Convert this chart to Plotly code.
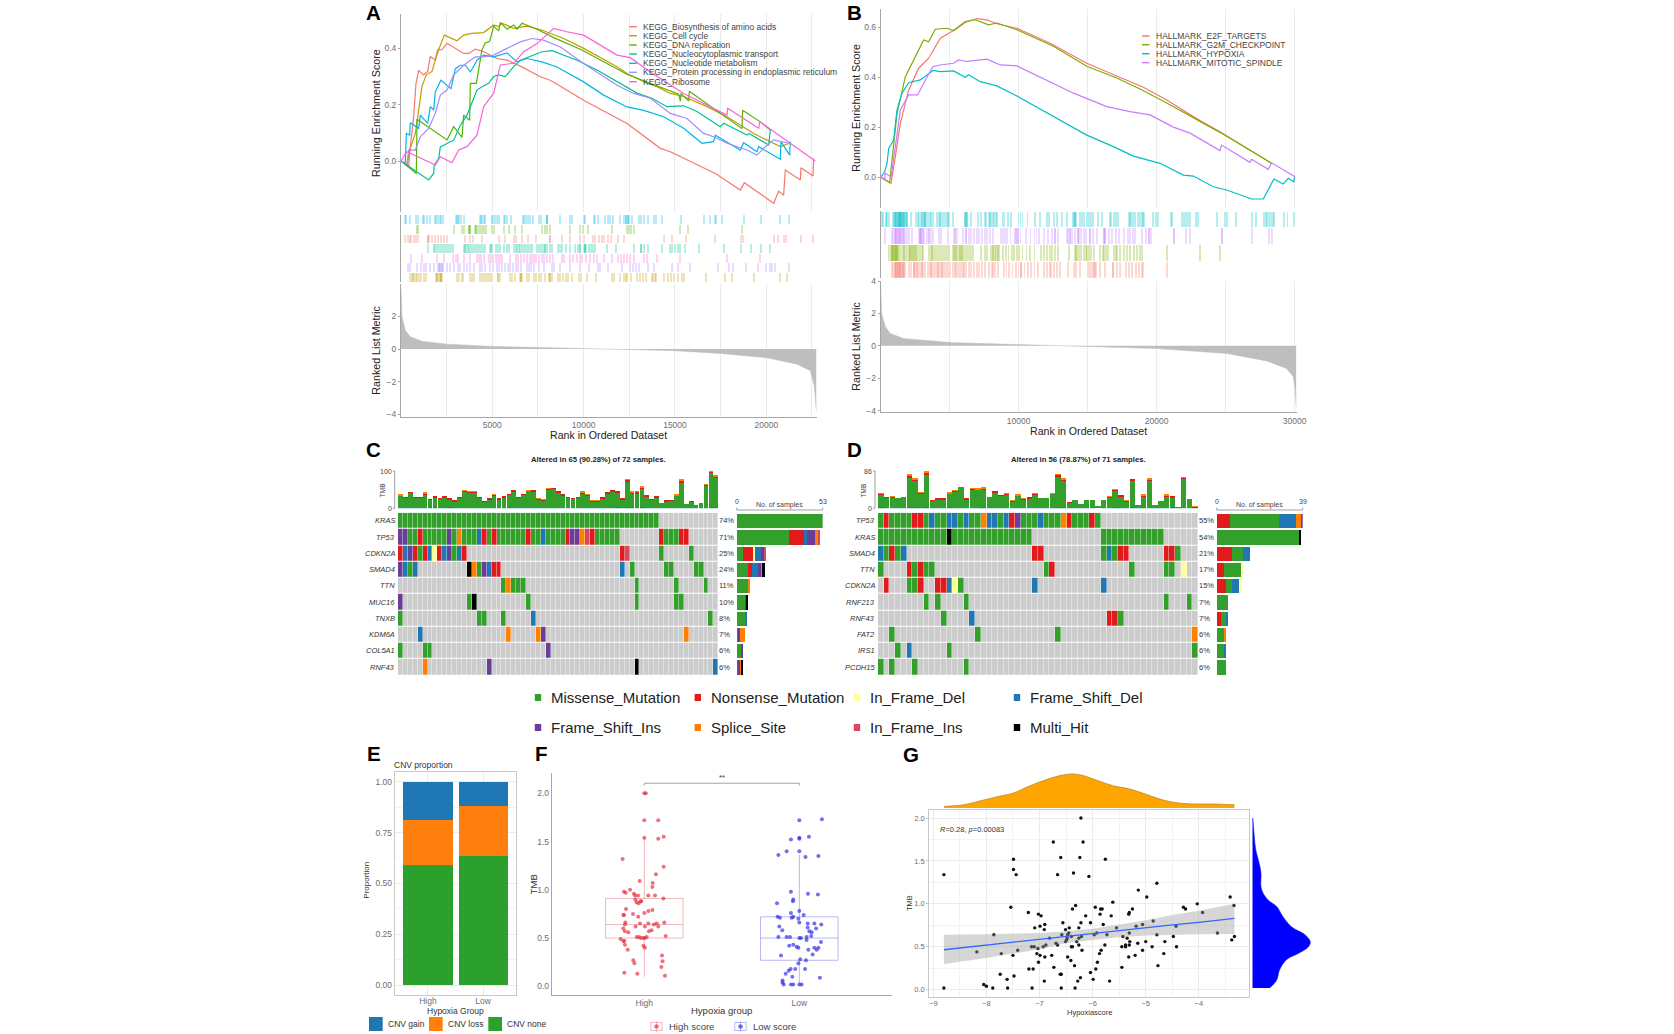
import numpy as np
import plotly.graph_objects as go

W, H = 1674, 1034

# ---------------- GSEA panel A ----------------
kegg_names = ["KEGG_Biosynthesis of amino acids", "KEGG_Cell cycle", "KEGG_DNA replication",
              "KEGG_Nucleocytoplasmic transport", "KEGG_Nucleotide metabolism",
              "KEGG_Protein processing in endoplasmic reticulum", "KEGG_Ribosome"]
kegg_colors = ["#F8766D", "#C49A00", "#53B400", "#00C094", "#00B6EB", "#A58AFF", "#FB61D7"]

biosyn_rank = [1, 420, 511, 694, 821, 967, 1241, 1460, 1606, 1880, 2007, 2245, 2519, 3431, 3705, 4070, 4526, 5256, 5804, 6534, 7629, 8176, 10001, 12374, 14199, 14746, 17210, 18579, 18798, 20404, 20677, 20951, 21042, 21864, 21900, 22557, 22593]
biosyn_es = [0, -.017, .05, .157, .276, .321, .306, .318, .371, .359, .395, .395, .418, .382, .382, .397, .388, .364, .358, .337, .299, .287, .216, .133, .045, .033, -.044, -.103, -.077, -.15, -.107, -.121, -.032, -.067, -.024, -.053, .009]
cycle_rank = [1, 329, 475, 785, 967, 1150, 1387, 1697, 1880, 2062, 2373, 3066, 3431, 3887, 4526, 5074, 5347, 5530, 6169, 6899, 7629, 8176, 8906, 10001, 11826, 12374, 13286, 14016, 14746, 15476, 16754, 17849, 18579, 19309, 20769, 21280]
cycle_es = [0, -.017, .039, .098, .18, .265, .306, .318, .359, .395, .447, .427, .447, .453, .456, .483, .477, .489, .471, .479, .467, .453, .435, .4, .335, .311, .282, .264, .24, .229, .193, .157, .127, .098, .051, .063]
dna_rank = [1, 840, 876, 2519, 2884, 3340, 3431, 3760, 3796, 4125, 4435, 4617, 4855, 5074, 5347, 5439, 5804, 6169, 6351, 6625, 7446, 8359, 9819, 12374, 15202, 15294, 15330, 15750, 15786, 18670, 18706, 19673, 20221]
dna_es = [0, -.044, .148, .075, .122, .084, .163, .145, .276, .276, .395, .419, .425, .479, .462, .492, .468, .483, .468, .489, .468, .438, .397, .308, .237, .213, .24, .213, .248, .115, .18, .139, .11]
transport_rank = [1, 1515, 1789, 1825, 2062, 2154, 2519, 2884, 3248, 3614, 3796, 4161, 4435, 4800, 5074, 5347, 5712, 6169, 6534, 6899, 7264, 7720, 8267, 8906, 9636, 10731, 11826, 12921, 13742, 14564, 15476, 16206, 17484, 17666, 18943, 19053, 20130, 20221]
transport_es = [0, -.067, -.044, -.014, .009, .05, .062, .074, .127, .163, .193, .252, .264, .276, .3, .306, .3, .335, .358, .368, .376, .388, .392, .376, .358, .323, .282, .241, .223, .193, .196, .176, .122, .134, .092, .098, .057, .11]
nucleotide_rank = [1, 237, 292, 475, 511, 967, 1058, 1460, 1606, 1789, 1880, 2190, 2737, 2975, 3248, 3522, 3796, 4161, 4526, 5074, 5804, 6351, 6899, 7720, 8541, 10001, 11096, 12374, 13286, 14381, 15476, 16480, 17119, 17210, 18579, 18761, 19491, 19582, 20769, 20805, 21280, 21316]
nucleotide_es = [0, -.008, .098, .092, .136, .116, .163, .134, .193, .181, .246, .287, .257, .328, .34, .34, .316, .358, .376, .37, .384, .352, .364, .352, .334, .281, .234, .192, .18, .157, .116, .063, .069, .092, .039, .065, .033, .051, .006, .069, .021, .069]
protein_rank = [1, 329, 420, 785, 1058, 1515, 1880, 2154, 2519, 2884, 3431, 4070, 4526, 5074, 5804, 6534, 7172, 7811, 8724, 10001, 11826, 12738, 13651, 14746, 15658, 16571, 17119, 17849, 18943, 19491, 19947, 20404, 21224]
protein_es = [0, -.008, .039, .039, .086, .116, .169, .234, .252, .306, .34, .37, .37, .376, .4, .423, .435, .429, .405, .346, .269, .24, .223, .169, .151, .098, .086, .063, .039, .021, .051, .075, .063]
ribosome_rank = [1, 329, 1880, 2154, 2792, 3157, 3614, 4161, 4526, 5074, 5439, 6169, 6716, 7446, 8359, 9088, 10001, 11826, 12556, 13651, 15476, 17849, 17885, 19582, 19637, 22685]
ribosome_es = [0, .033, -.014, .015, -.006, .039, .051, .092, .193, .241, .341, .347, .388, .417, .471, .459, .447, .376, .367, .316, .24, .163, .187, .116, .14, 0]

nucleotide_hits = [237, 292, 475, 821, 912, 1186, 1278, 1423, 1570, 1843, 1935, 2026, 2117, 2208, 2281, 3011, 3066, 3121, 3176, 3285, 3431, 4307, 4380, 4453, 4526, 4599, 4964, 5037, 5128, 5256, 5347, 5621, 5694, 5804, 6023, 6680, 6753, 6862, 6972, 7081, 7209, 7556, 7647, 7994, 7994, 7994, 8687, 9271, 9344, 10001, 10092, 10549, 10640, 10786, 11187, 11315, 11425, 11607, 12009, 12191, 12337, 12337, 12410, 12410, 12465, 12647, 13012, 13158, 13286, 13505, 13834, 13943, 14308, 15330, 16608, 16900, 17173, 17246, 17575, 18761, 19710, 20769, 21261]
dna_hits = [858, 949, 2884, 3340, 3431, 3723, 3723, 3760, 3760, 4033, 4125, 4125, 4234, 4344, 4453, 4563, 4672, 5001, 5110, 5658, 5913, 6223, 6607, 7738, 7866, 7994, 8140, 9235, 9819, 9946, 10257, 11534, 12374, 12483, 12593, 12738, 15257, 15732, 18688]
biosyn_hits = [201, 365, 475, 566, 694, 803, 931, 1460, 1460, 1533, 1716, 1862, 2008, 2190, 2373, 2519, 3504, 3796, 3942, 4417, 5366, 5694, 6169, 6315, 6643, 6972, 7373, 8140, 8176, 8833, 9271, 9819, 10038, 10512, 10640, 10822, 11023, 11133, 11315, 11498, 11899, 12191, 14381, 14819, 15586, 17192, 18615, 18725, 20440, 20659, 20951, 21060, 21900, 22557]
transport_hits = [1497, 1789, 1862, 1971, 2081, 2190, 2299, 2409, 2519, 2628, 2738, 2847, 3431, 3504, 3577, 3650, 3723, 3833, 3942, 4052, 4161, 4271, 4380, 4490, 4599, 4855, 4928, 5001, 5183, 5293, 5439, 5658, 5804, 5913, 6169, 6278, 6351, 6442, 6534, 6643, 6753, 6862, 6972, 7081, 7191, 7446, 7556, 7665, 7775, 7884, 7884, 7994, 8176, 8286, 8578, 8724, 8833, 9052, 9271, 9527, 9709, 9819, 9819, 10001, 10074, 10074, 10147, 10293, 10403, 10512, 10622, 11279, 11790, 12775, 13140, 13140, 13323, 13542, 14308, 14710, 14856, 15002, 15148, 15294, 15549, 16316, 17666, 18615, 19163, 19710, 20221]
ribosome_hits = [566, 1132, 1971, 2336, 2847, 2993, 3139, 3431, 3796, 4161, 4271, 4380, 4526, 4818, 4928, 5037, 5183, 5329, 5439, 5548, 5986, 6278, 6424, 6570, 6753, 6899, 7045, 7191, 7300, 7410, 7556, 7702, 7811, 7994, 8176, 8322, 8797, 8943, 9271, 9417, 9636, 9819, 9928, 10111, 10366, 10549, 10731, 11096, 11571, 11899, 12045, 12191, 12374, 12520, 12738, 13323, 13469, 14016, 15294, 17849, 19637]
protein_hits = [365, 475, 876, 1095, 1241, 1351, 1606, 1825, 2008, 2081, 2154, 2154, 2227, 2227, 2299, 2519, 2701, 2884, 3103, 3249, 3431, 3614, 3796, 3979, 4307, 4453, 4599, 4891, 5037, 5256, 5366, 5548, 5694, 5840, 5986, 6132, 6278, 6388, 6570, 6899, 7008, 7118, 7264, 7556, 7811, 8249, 8395, 8724, 9271, 9819, 10293, 10768, 10877, 11315, 12118, 12520, 12702, 12848, 13031, 13542, 13870, 14856, 15148, 15841, 17338, 17958, 18177, 18871, 19564, 19966, 20185, 20331, 20477, 21225]
cycle_hits = [475, 584, 657, 730, 803, 876, 986, 1095, 1278, 1351, 1898, 1971, 1971, 2044, 2117, 2117, 2190, 2190, 2263, 3066, 3176, 3322, 3395, 3760, 3869, 3979, 4307, 4417, 4526, 4636, 4745, 4855, 4964, 5329, 5329, 5402, 5986, 6096, 6242, 6497, 6570, 6570, 6643, 6899, 7008, 7300, 7410, 7556, 7665, 7884, 8103, 8176, 8176, 8249, 8578, 8724, 8870, 9016, 9162, 9381, 9746, 9855, 10184, 10658, 11534, 11644, 12009, 12228, 12301, 12374, 12593, 12921, 13067, 13250, 13396, 13724, 13797, 13907, 13980, 14418, 14600, 14783, 14965, 15184, 15367, 15513, 16717, 17739, 18141, 19309, 20732, 21134]

metric_a_rank = [1, 55, 237, 511, 1150, 2519, 5074, 7446, 10001, 11100, 12556, 15019, 17484, 20039, 21681, 22411, 22630, 22740]
metric_a = [3.65, 2.0, 1.16, .75, .47, .3, .16, .08, .02, 0, -.03, -.11, -.27, -.54, -.93, -1.33, -2.3, -3.8]

# ---------------- GSEA panel B ----------------
hallmark_names = ["HALLMARK_E2F_TARGETS", "HALLMARK_G2M_CHECKPOINT", "HALLMARK_HYPOXIA", "HALLMARK_MITOTIC_SPINDLE"]
hallmark_colors = ["#F8766D", "#7CAE00", "#00BFC4", "#C77CFF"]

e2f_rank = [1, 748, 1062, 1424, 2027, 2751, 3475, 4319, 5285, 6129, 6974, 7698, 8421, 9869, 12282, 14936, 17108, 19039, 20728, 23141, 24589, 28329]
e2f_es = [0, -.025, .082, .215, .349, .436, .476, .556, .587, .619, .635, .63, .614, .596, .536, .456, .405, .36, .309, .226, .181, .055]
g2m_rank = [1, 651, 820, 1182, 1786, 2510, 3113, 3475, 3957, 4802, 5285, 6129, 6853, 7818, 8421, 9869, 12523, 14936, 17108, 18797, 20728, 23141, 24589, 28329]
g2m_es = [0, -.023, .068, .255, .402, .483, .549, .542, .592, .596, .587, .623, .63, .61, .617, .59, .524, .444, .397, .353, .297, .223, .179, .055]
hypoxia_rank = [1, 290, 458, 579, 941, 1182, 1544, 2027, 2871, 3788, 4319, 5285, 6129, 6370, 7215, 8421, 9869, 12523, 14936, 16867, 18315, 20245, 21934, 22658, 24106, 25071, 26881, 27725, 28498, 29174, 29536, 29946, 29994]
hypoxia_es = [0, .021, .055, .115, .148, .269, .336, .378, .389, .427, .422, .425, .4, .41, .382, .365, .325, .242, .168, .122, .084, .055, .008, .004, -.039, -.052, -.088, -.088, -.008, -.028, -.005, -.019, .001]
mitotic_rank = [1, 290, 314, 748, 1062, 1424, 2027, 2678, 3113, 3788, 4319, 5285, 5646, 6250, 7698, 8663, 9869, 12282, 13971, 16385, 18074, 19522, 21210, 22417, 24589, 24710, 26761, 26881, 28088, 28329, 30019]
mitotic_es = [0, -.012, .015, .001, .122, .269, .329, .329, .376, .443, .449, .456, .469, .463, .472, .449, .445, .382, .336, .282, .262, .249, .2, .176, .106, .128, .059, .071, .031, .057, .001]

hypoxia_hits = [72, 169, 386, 458, 555, 845, 941, 1038, 1110, 1182, 1279, 1375, 1472, 1568, 1665, 1761, 1858, 1906, 2196, 2534, 2678, 2775, 2871, 2968, 3065, 3161, 3258, 3402, 3547, 3644, 3740, 4078, 4175, 4271, 4368, 4464, 4609, 4754, 4850, 4947, 5188, 6057, 6153, 6250, 6539, 7022, 7215, 7504, 7601, 7842, 7939, 8084, 8180, 8325, 8421, 8856, 8952, 9194, 9435, 9966, 10110, 10255, 10617, 11172, 11558, 12041, 12186, 12523, 12764, 13103, 13489, 13971, 14068, 14164, 14453, 14598, 14743, 14936, 15081, 15226, 15371, 15757, 15998, 16577, 16674, 16867, 17011, 17205, 18025, 18122, 18267, 18411, 18604, 18797, 18942, 19039, 19714, 19907, 20100, 21017, 21114, 21838, 21934, 22079, 22224, 22369, 22803, 22948, 24347, 24926, 25071, 25747, 26905, 27146, 27773, 27870, 27966, 28111, 28256, 28401, 28498, 29222, 29463, 29946]
hypoxia_core_hits = [400, 1000, 1050, 1150, 1200, 1300, 1330, 1350, 1420, 1450, 1500, 1600, 1700, 1800, 3100, 3200, 6100, 6200, 7900, 13950, 14050, 18000, 19000]
mitotic_hits = [290, 796, 893, 989, 1086, 1182, 1279, 1375, 1472, 1568, 1665, 1761, 1858, 2051, 2244, 2727, 2823, 2920, 3016, 3113, 3354, 3499, 3644, 3788, 4223, 4368, 4850, 5285, 5381, 5478, 5960, 6153, 6346, 6539, 6732, 6925, 7118, 7311, 7504, 7698, 7891, 8084, 8711, 8856, 9001, 9145, 9387, 9725, 9821, 9918, 10110, 10497, 10834, 11124, 11269, 11462, 11848, 12138, 12427, 12620, 12813, 13489, 13585, 13730, 13875, 14068, 14261, 14357, 14502, 14743, 14888, 15178, 15371, 15661, 16143, 16240, 16529, 16770, 17060, 17253, 17639, 17880, 18074, 18267, 18411, 18894, 19184, 19425, 19570, 21234, 22079, 22369, 24710, 26857, 28111, 28304]
mitotic_core_hits = [1000, 1100, 1250, 1300, 1450, 1600, 2800, 2900, 3000, 3500, 5400, 6150, 9800, 9950, 12600, 13700, 14300, 15170, 16150, 16200, 19400, 21234, 24710]
g2m_hits = [579, 700, 796, 893, 989, 1086, 1182, 1327, 1472, 1617, 1713, 1906, 2099, 2244, 2389, 2534, 2678, 2823, 2968, 3065, 3499, 3644, 3788, 3933, 4078, 4223, 4368, 4512, 4657, 4802, 4947, 5236, 5381, 5526, 5671, 5815, 5960, 6105, 6250, 6394, 6539, 6684, 7215, 7504, 7698, 7939, 8084, 8228, 8373, 8518, 8856, 9049, 9242, 9483, 9628, 9869, 10014, 10255, 10545, 10786, 11124, 11606, 11800, 12041, 12234, 12427, 12620, 12861, 13634, 14068, 14213, 14357, 14502, 14695, 14888, 15081, 15226, 15419, 15902, 16143, 16336, 16481, 16867, 17108, 17350, 17591, 17832, 18074, 18315, 18556, 18749, 18942, 20752, 23093, 24589]
g2m_core_hits = [800, 900, 950, 1000, 1100, 1190, 1250, 1700, 2000, 2100, 2250, 2400, 2550, 3700, 5300, 5450, 5700, 5850, 8150, 8300, 8500, 14150, 14900, 16100, 17000]
e2f_hits = [796, 893, 989, 1086, 1182, 1279, 1375, 1472, 1568, 1665, 1761, 2051, 2196, 2389, 2485, 2582, 2727, 2871, 3016, 3209, 3402, 3547, 3692, 3837, 3981, 4126, 4271, 4416, 4561, 4705, 4850, 4995, 5188, 5381, 5526, 5671, 5815, 5960, 6153, 6346, 6539, 6732, 6925, 7118, 7311, 7504, 7794, 8035, 8228, 8470, 8904, 9097, 9290, 9531, 9773, 9966, 10159, 10400, 10641, 10883, 11124, 11365, 11848, 12041, 12282, 12523, 12764, 12958, 13585, 14020, 14164, 14453, 15033, 15178, 15323, 15467, 15612, 15902, 16240, 16819, 17108, 17301, 17735, 18218, 18508, 18701, 18894, 18990, 20728]
e2f_core_hits = [1000, 1050, 1150, 1200, 1280, 1350, 1500, 1600, 2400, 2600, 3000, 3600, 4100, 4400, 5400, 6000, 8100, 10150, 12300, 15400, 15500, 16800, 18000]

metric_b_rank = [1, 72, 340, 700, 1665, 5043, 9990, 13006, 20004, 25071, 27966, 29415, 29898, 30043, 30115]
metric_b = [3.7, 2.0, 1.17, .76, .45, .2, .08, 0, -.17, -.47, -.93, -1.4, -1.9, -2.75, -3.77]

# ---------------- oncoplots C and D (run-length coded per gene) ----------------
mutation_names = ["Missense_Mutation", "Nonsense_Mutation", "In_Frame_Del", "Frame_Shift_Del",
                  "Frame_Shift_Ins", "Splice_Site", "In_Frame_Ins", "Multi_Hit"]
mutation_codes = ["M", "N", "D", "F", "P", "S", "I", "H"]
mutation_colors = ["#33A02C", "#E31A1C", "#FFFF99", "#1F78B4", "#6A3D9A", "#FF7F00", "#D8485F", "#000000"]

genes_c = ["KRAS", "TP53", "CDKN2A", "SMAD4", "TTN", "MUC16", "TNXB", "KDM6A", "COL5A1", "RNF43"]
percent_c = ["74%", "71%", "25%", "24%", "11%", "10%", "8%", "7%", "6%", "6%"]
cells_c = [
    "M53 .12",
    "P2 M2 N1 M5 P1 M1 S1 M3 F1 N1 M1 N1 M6 N1 M2 F1 M4 N1 P2 S1 I1 N1 M5 .8 N1 M3 N2 .6",
    "N1 F1 P1 N1 M1 N1 F1 D1 N1 F1 P1 M1 F1 N1 .31 N1 I1 .6 M1 .5 M1 .5",
    "P1 F1 M1 F1 .10 H1 S1 M1 P1 F1 N2 .24 F1 .1 M1 .6 M2 .4 M2 .3",
    ".21 M1 S1 M3 .22 M1 .7 M1 .5 M1 .2",
    "P1 .13 M1 H1 .10 M1 .21 M1 .7 M2 .7",
    "M1 .15 M2 .3 M1 .5 F1 .35 M1 .1",
    ".4 F1 .17 S1 .5 S1 P1 .28 S1 .6",
    "M1 .4 M2 .23 P1 .34",
    ".5 S1 .12 P1 .29 H1 .15 F1",
]
stack_order_c = ["M", "N", "D", "F", "P", "S", "I", "H"]
tmb_total_c = [36, 30, 43, 30, 29, 42, 24, 31, 26, 32,
               27, 20, 30, 49, 46, 46, 30, 18, 25, 37,
               25, 31, 38, 47, 30, 37, 49, 47, 27, 24,
               53, 54, 46, 36, 30, 27, 30, 44, 37, 21,
               21, 28, 42, 47, 45, 25, 78, 44, 45, 58,
               34, 24, 31, 15, 20, 21, 36, 76, 12, 19,
               8, 13, 65, 100, 87]
tmb_red_c = [1, 1, 1, 1, 1, 3, 1, 2, 1, 2,
             3, 1, 1, 3, 3, 3, 1, 1, 2, 3,
             1, 1, 2, 3, 1, 1, 1, 2, 3, 3,
             1, 1, 3, 1, 1, 2, 1, 2, 1, 2,
             3, 1, 1, 2, 2, 1, 4, 4, 4, 3,
             3, 1, 2, 0, 1, 1, 2, 5, 0, 1,
             0, 0, 2, 3, 3]
tmb_orange_c = [1, 0, 0, 0, 0, 1, 0, 0, 0, 0,
                0, 0, 0, 1, 1, 1, 0, 0, 0, 1,
                0, 0, 0, 0, 0, 0, 1, 0, 1, 1,
                1, 0, 0, 0, 0, 0, 0, 2, 1, 1,
                1, 0, 0, 0, 0, 0, 1, 1, 1, 1,
                0, 0, 0, 0, 0, 0, 1, 1, 0, 0,
                0, 0, 1, 1, 1]
tmb_blue_c = [1, 1, 1, 1, 1, 1, 3, 3, 2, 1,
              3, 1, 1, 2, 2, 1, 1, 1, 1, 1,
              1, 1, 3, 1, 1, 2, 1, 1, 1, 2,
              2, 1, 2, 1, 1, 1, 1, 1, 2, 1,
              2, 1, 1, 1, 3, 1, 3, 3, 1, 4,
              1, 1, 1, 2, 1, 1, 1, 1, 1, 1,
              1, 1, 1, 4, 2]

genes_d = ["TP53", "KRAS", "SMAD4", "TTN", "CDKN2A", "RNF213", "RNF43", "FAT2", "IRS1", "PCDH15"]
percent_d = ["55%", "54%", "21%", "17%", "15%", "7%", "7%", "6%", "6%", "6%"]
cells_d = [
    "M1 N1 M4 N2 M1 F1 M2 F2 M1 F1 M2 S1 F2 M1 F1 N1 P1 M3 F1 M3 S1 N1 M3 N1 M1 .17",
    "M12 H1 M14 .12 M11 .6",
    "F1 M1 N1 M1 F1 .22 N2 .10 M1 F1 M1 N2 .6 N2 M1 .3",
    "M1 .4 N1 M1 N1 M2 .19 M1 N1 .13 M1 .5 M2 .1 D1 .2",
    ".1 N1 .3 M2 N1 .2 N2 F1 D1 M1 .12 F1 .11 F1 .16",
    ".8 M1 .1 M1 .4 M1 .34 M1 .3 M1 .1",
    ".11 M1 .4 F1 .23 N2 M1 .13",
    ".2 M1 .14 M1 .13 M1 .23 S1",
    ".3 M1 .1 F1 .6 M1 .42 M1",
    "M1 .1 M1 .3 M1 .8 M1 .40",
]
stack_order_d = ["N", "M", "F", "D", "S", "P", "I", "H"]
tmb_total_d = [35, 26, 28, 24, 25, 77, 68, 37, 86, 18,
               23, 23, 36, 42, 49, 22, 46, 45, 47, 26,
               38, 30, 35, 18, 31, 23, 25, 35, 24, 23,
               35, 78, 68, 14, 18, 11, 20, 18, 5, 18,
               28, 44, 29, 19, 67, 8, 31, 68, 8, 16,
               31, 27, 1, 71, 21, 4]
tmb_red_d = [2, 1, 1, 0, 0, 4, 4, 2, 5, 1,
             2, 2, 1, 2, 0, 1, 2, 1, 2, 0,
             1, 1, 2, 1, 1, 2, 2, 2, 0, 0,
             1, 4, 4, 1, 0, 0, 0, 0, 0, 0,
             1, 3, 1, 2, 2, 0, 2, 2, 0, 0,
             2, 2, 0, 2, 0, 1]
tmb_orange_d = [1, 0, 1, 0, 0, 1, 1, 1, 5, 0,
                0, 0, 1, 1, 0, 0, 1, 1, 1, 0,
                0, 0, 1, 1, 1, 1, 0, 1, 0, 0,
                1, 1, 1, 0, 0, 0, 0, 0, 0, 0,
                1, 1, 0, 1, 0, 0, 1, 1, 0, 0,
                1, 0, 0, 1, 0, 1]
tmb_blue_d = [3, 1, 1, 1, 1, 3, 3, 1, 2, 1,
              1, 1, 2, 1, 1, 1, 1, 1, 2, 1,
              1, 1, 1, 1, 1, 1, 1, 1, 1, 1,
              1, 3, 2, 1, 1, 1, 1, 1, 0, 1,
              1, 2, 1, 1, 2, 1, 2, 1, 1, 1,
              1, 2, 0, 1, 1, 0]

# ---------------- panel E ----------------
cnv_groups = ["High", "Low"]
cnv_none = [.59, .633]
cnv_loss = [.221, .246]
cnv_gain = [.189, .121]

# ---------------- panel F ----------------
high_tmb = [2.0, 2.0, 1.72, 1.72, 1.54, 1.55, 1.53, 1.32, 1.24, 1.16, 1.09, 1.07, 1.03, 1.0, .98, .97, .96, .94, .94, .94, .94, .91, .9, .88, .86, .88, .87, .8, .79, .78, .76, .75, .74, .74, .72, .66, .64, .66, .65, .65, .65, .64, .62, .62, .62, .58, .57, .6, .57, .56, .51, .51, .51, .5, .5, .5, .52, .49, .47, .47, .43, .38, .42, .4, .32, .26, .27, .24, .2, .14, .13, .11]
high_jitter = [0, .01, .09, 0, 0, .125, .09, -.14, .125, .075, -.03, .054, .052, -.092, -.131, -.12, -.067, -.06, -.04, .026, .069, .123, -.058, -.024, -.037, -.02, -.05, -.118, .052, .026, 0, -.073, -.135, -.131, -.039, -.122, -.125, .129, -.028, .026, .08, .062, .09, -.056, .004, .047, .03, -.136, -.125, -.103, .015, -.034, -.049, -.022, -.006, .004, .138, -.153, -.135, -.129, -.125, -.107, -.006, .004, .114, .118, -.071, -.064, .11, -.129, -.045, .133]
low_tmb = [1.73, 1.72, 1.54, 1.53, 1.55, 1.52, 1.4, 1.4, 1.36, 1.34, 1.35, .98, .96, .95, .9, .88, .86, .78, .76, .74, .72, .71, .72, .71, .7, .66, .65, .65, .64, .62, .61, .6, .58, .57, .56, .52, .51, .51, .51, .5, .5, .51, .48, .46, .43, .42, .41, .4, .38, .4, .38, .4, .33, .32, .28, .27, .24, .18, .18, .18, .16, .13, .1, .09, .06, .04, .02, .02, .02, .02, .02]
low_jitter = [.146, 0, 0, 0, .062, -.054, 0, -.082, -.135, .04, .123, -.054, .056, .12, -.039, -.041, -.144, 0, -.054, .028, -.039, -.049, -.14, -.125, -.006, 0, .054, .097, .142, -.129, .054, .108, -.11, .065, .08, .077, -.135, -.082, -.06, 0, .011, .047, .047, .14, -.039, -.065, -.017, -.006, .058, .097, .112, .123, .086, -.118, .006, .043, -.006, .037, -.026, -.056, -.069, -.088, -.045, .133, -.108, -.108, -.101, -.054, -.039, 0, .015]
high_box = dict(q1=.5, median=.64, q3=.91, lowerfence=.1, upperfence=1.54)
low_box = dict(q1=.27, median=.5, q3=.72, lowerfence=.02, upperfence=1.36)

# ---------------- panel G ----------------
hypoxia_score = [-8.8, -8.8, -8.18, -7.86, -8.05, -8.0, -7.88, -7.72, -7.74, -7.61, -7.6, -7.54, -7.49, -7.49, -7.44, -7.5, -7.48, -7.41, -7.21, -7.2, -7.12, -7.14, -7.15, -7.1, -7.09, -7.02, -6.97, -6.99, -6.9, -6.91, -7.03, -7.05, -6.99, -7.02, -6.93, -6.88, -6.9, -6.91, -6.81, -6.77, -6.73, -6.74, -6.6, -6.66, -6.69, -6.66, -6.61, -6.59, -6.59, -6.56, -6.51, -6.51, -6.49, -6.58, -6.44, -6.45, -6.47, -6.48, -6.4, -6.47, -6.41, -6.4, -6.38, -6.34, -6.33, -6.28, -6.23, -6.36, -6.32, -6.38, -6.3, -6.26, -6.26, -6.26, -6.21, -6.22, -6.24, -6.22, -6.18, -6.2, -6.13, -6.07, -6.04, -6.04, -5.99, -5.97, -5.94, -5.91, -5.92, -5.95, -5.87, -5.84, -5.86, -5.85, -5.82, -5.8, -5.77, -5.76, -5.73, -5.68, -5.65, -5.62, -5.55, -5.45, -5.45, -5.43, -5.38, -5.38, -5.35, -5.32, -5.31, -5.31, -5.3, -5.31, -5.32, -5.25, -5.2, -5.18, -5.14, -5.15, -5.06, -5.06, -5.0, -4.98, -4.88, -4.86, -4.79, -4.79, -4.77, -4.66, -4.64, -4.48, -4.43, -4.42, -4.29, -4.25, -4.03, -3.93, -3.65, -3.41, -3.38, -3.34, -3.33]
score_tmb = [1.34, .02, .44, .64, .06, .04, .02, .42, .18, .12, .02, .96, 1.52, 1.4, 1.34, .4, .16, .46, .9, .24, .24, .02, .5, .5, .72, .88, .86, .74, .76, .7, .48, .42, .4, .32, .5, .52, .38, .1, .6, .4, .26, 1.72, 1.54, 1.34, .54, .52, .18, .18, .02, .78, .7, .56, .58, .64, .72, .66, .64, .6, .62, .38, .34, .5, .5, .28, .02, .1, .14, 1.36, .98, .94, .56, .72, .52, .6, .62, .78, 1.54, 2.0, 1.72, .46, .86, 1.32, .78, .2, .12, .64, .24, .32, .66, .96, .42, .46, .88, .94, .94, .76, .52, 1.52, .64, .1, .86, 1.02, .72, .5, .26, .62, .5, .52, .6, .88, .9, .66, .56, .52, .38, .94, .4, .74, 1.16, .54, .76, .46, .56, 1.08, .5, .8, .64, 1.24, .28, .42, .56, .62, .74, .5, .96, .94, 1.0, .9, .66, 1.08, .58, .98, .62]
fit_x = [-8.8, -8, -7, -6.5, -6, -5.5, -5, -4.5, -4, -3.33]
fit_y = [.465, .52, .585, .62, .65, .685, .72, .755, .785, .83]
fit_upper = [.64, .645, .66, .68, .71, .76, .81, .87, .92, 1.0]
fit_lower = [.30, .37, .47, .54, .58, .61, .63, .635, .645, .65]
density_x = [-8.8, -8.435, -8.12, -7.81, -7.49, -7.18, -6.87, -6.61, -6.39, -6.18, -5.92, -5.61, -5.3, -4.98, -4.67, -4.35, -4.04, -3.73, -3.33]
density_of_x = [.02, .04, .09, .14, .19, .28, .36, .41, .43, .41, .35, .28, .24, .17, .10, .06, .05, .05, .04]
density_y = [.02, .11, .23, .35, .42, .5, .56, .64, .73, .85, .97, 1.04, 1.12, 1.2, 1.36, 1.47, 1.63, 1.82, 2.0]
density_of_y = [.30, .42, .47, .59, .79, .97, 1.0, .91, .68, .53, .42, .28, .19, .15, .15, .12, .06, .03, .01]

# ---------------- figure assembly ----------------
AXIS_GRAY = "#A6A6A6"
TICK_GRAY = "#6E6E6E"
GRID = "#EBEBEB"
fig = go.Figure()
layout_axes = {}
notes = []
shapes = []
axis_count = 0


def fx(px):
    return px / W


def fy(py):
    return 1 - py / H


def panel(left, right, top, bottom, xrange, yrange, xopts=None, yopts=None):
    """Register a pair of axes placed by pixel box; returns their trace references."""
    global axis_count
    axis_count += 1
    n = axis_count
    xa = dict(domain=[fx(left), fx(right)], range=xrange, anchor=f"y{n}", showgrid=False, automargin=False,
              zeroline=False, showticklabels=False, ticks="", showline=False)
    ya = dict(domain=[fy(bottom), fy(top)], range=yrange, anchor=f"x{n}", showgrid=False, automargin=False,
              zeroline=False, showticklabels=False, ticks="", showline=False)
    xa.update(xopts or {})
    ya.update(yopts or {})
    layout_axes[f"xaxis{n}"] = xa
    layout_axes[f"yaxis{n}"] = ya
    return f"x{n}", f"y{n}"


def text(px, py, s, size=8.0, color="#333333", anchor="center", angle=0):
    notes.append(dict(x=fx(px), y=fy(py), xref="paper", yref="paper", text=s, showarrow=False,
                      xanchor=anchor, yanchor="middle", textangle=angle, borderpad=0, borderwidth=0,
                      font=dict(size=size, color=color)))


def rect(x0, y0, x1, y1, fill, line="rgba(0,0,0,0)", lw=0):
    shapes.append(dict(type="rect", xref="paper", yref="paper", x0=fx(x0), x1=fx(x1), y0=fy(y0), y1=fy(y1),
                       fillcolor=fill, line=dict(color=line, width=lw)))


def seg(x0, y0, x1, y1, color, lw=1.0):
    shapes.append(dict(type="line", xref="paper", yref="paper", x0=fx(x0), x1=fx(x1), y0=fy(y0), y1=fy(y1),
                       line=dict(color=color, width=lw)))


def gsea(curves, rows, metric_rank, metric, xmax, grid_step, label_step, es_box, es_range, es_ticks,
         rug_box, rug_width, metric_box, metric_range, metric_ticks, legend_names, legend_colors,
         legend_x, legend_ys, legend_size):
    left, right = es_box[:2]
    all_ticks = list(range(grid_step, int(xmax), grid_step))
    grid_opts = dict(tickvals=all_ticks, showgrid=True, gridcolor=GRID, gridwidth=1)
    yline = dict(showline=True, linecolor=AXIS_GRAY, linewidth=1)
    # running enrichment curves
    xr, yr = panel(left, right, es_box[2], es_box[3], [0, xmax], es_range, grid_opts,
                   dict(yline, tickvals=es_ticks, showticklabels=True, tickformat=".1f", ticks="outside",
                        ticklen=2, tickcolor=AXIS_GRAY, tickfont=dict(size=8.5, color=TICK_GRAY)))
    for (rk, es), c in zip(curves, legend_colors):
        fig.add_trace(go.Scatter(x=rk, y=es, mode="lines", line=dict(color=c, width=1.2),
                                 xaxis=xr, yaxis=yr, showlegend=False))
    # hit ticks, one band per gene set
    xr, yr = panel(left, right, rug_box[0], rug_box[1], [0, xmax], [0, len(rows)], None, dict(yline))
    for i, (hits, c) in enumerate(rows):
        fig.add_trace(go.Bar(x=hits, y=[.93] * len(hits), base=len(rows) - 1 - i + .03, width=rug_width,
                             marker=dict(color=c, opacity=.28, line=dict(width=0)),
                             xaxis=xr, yaxis=yr, showlegend=False))
    # ranked list metric
    labels = [f"{v}" if v % label_step == 0 else "" for v in all_ticks]
    xr, yr = panel(left, right, metric_box[0], metric_box[1], [0, xmax], metric_range,
                   dict(grid_opts, ticktext=labels, showticklabels=True, showline=True, linecolor=AXIS_GRAY,
                        tickfont=dict(size=8.5, color=TICK_GRAY)),
                   dict(yline, tickvals=metric_ticks, showticklabels=True, ticks="outside", ticklen=2,
                        tickcolor=AXIS_GRAY, tickfont=dict(size=8.5, color=TICK_GRAY)))
    fig.add_trace(go.Scatter(x=metric_rank, y=metric, mode="lines", fill="tozeroy", fillcolor="#BEBEBE",
                             line=dict(color="#BEBEBE", width=.5), xaxis=xr, yaxis=yr, showlegend=False))
    for name, c, y in zip(legend_names, legend_colors, legend_ys):
        seg(legend_x, y, legend_x + 7.5, y, c, 1.4)
        text(legend_x + 14, y, name, legend_size, "#444444", "left")


gsea(list(zip([biosyn_rank, cycle_rank, dna_rank, transport_rank, nucleotide_rank, protein_rank, ribosome_rank],
              [biosyn_es, cycle_es, dna_es, transport_es, nucleotide_es, protein_es, ribosome_es])),
     [(nucleotide_hits, "#00B6EB"), (dna_hits, "#53B400"), (biosyn_hits, "#F8766D"), (transport_hits, "#00C094"),
      (ribosome_hits, "#FB61D7"), (protein_hits, "#A58AFF"), (cycle_hits, "#C49A00")],
     metric_a_rank, metric_a, 22760, 2500, 5000,
     (401, 816.7, 14, 212), [-.181, .522], [0, .2, .4],
     (215, 282), 50, (284, 416.7), [-4.16, 3.995], [-4, -2, 0, 2],
     kegg_names, kegg_colors, 629.3, [26.7, 35.7, 45, 54, 63.3, 72.3, 81.7], 8.45)

gsea(list(zip([e2f_rank, g2m_rank, hypoxia_rank, mitotic_rank], [e2f_es, g2m_es, hypoxia_es, mitotic_es])),
     [(hypoxia_hits + hypoxia_core_hits, "#00BFC4"), (mitotic_hits + mitotic_core_hits, "#C77CFF"),
      (g2m_hits + g2m_core_hits, "#7CAE00"), (e2f_hits + e2f_core_hits, "#F8766D")],
     metric_b_rank, metric_b, 30150, 5000, 10000,
     (880.7, 1296.7, 9.3, 208), [-.124, .672], [0, .2, .4, .6],
     (210.7, 277.7), 70, (281, 412.3), [-4.1, 4], [-4, -2, 0, 2, 4],
     hallmark_names, hallmark_colors, 1142, [36, 44.7, 53.7, 62.7], 8.5)

text(376, 113, "Running Enrichment Score", 10.7, "#222222", angle=-90)
text(375.7, 350, "Ranked List Metric", 10.7, "#222222", angle=-90)
text(608, 435, "Rank in Ordered Dataset", 10.6, "#222222")
text(855.7, 108, "Running Enrichment Score", 10.7, "#222222", angle=-90)
text(855.7, 346, "Ranked List Metric", 10.7, "#222222", angle=-90)
text(1088, 431, "Rank in Ordered Dataset", 10.6, "#222222")


def decode(runs):
    out = []
    for token in runs.split():
        out += [token[0]] * int(token[1:])
    return out


def oncoplot(genes, percents, cells, order, tmb_total, tmb_red, tmb_orange, tmb_blue, title, title_x,
             left, right, bars_left, bars_right, tmb_max, bar_max, axis_x):
    rows = [decode(r) for r in cells]
    nsamp = len(rows[0])
    top, bottom = 512.7, 675.3
    index = {c: i + 1 for i, c in enumerate(mutation_codes)}
    z = [[index.get(c, 0) for c in row] for row in rows]
    steps = ["#CCCCCC"] + mutation_colors
    scale = []
    for i, c in enumerate(steps):
        scale += [[i / 9, c], [(i + 1) / 9, c]]
    xr, yr = panel(left, right, top, bottom, [-.5, nsamp - .5], [9.5, -.5])
    fig.add_trace(go.Heatmap(z=z, x=list(range(nsamp)), y=list(range(10)), zmin=-.5, zmax=8.5, colorscale=scale,
                             showscale=False, xgap=.4, ygap=1, xaxis=xr, yaxis=yr, hoverinfo="skip"))
    # tumour mutation burden stacked above the matrix
    total = np.array(tmb_total, float)
    red, orange, blue = np.array(tmb_red, float), np.array(tmb_orange, float), np.array(tmb_blue, float)
    green = np.maximum(total - red - orange - blue, 0)
    xr, yr = panel(left, right, 471, 508.3, [-.5, nsamp - .5], [0, tmb_max])
    base = np.zeros(nsamp)
    for part, c in [(blue, "#1F78B4"), (green, "#33A02C"), (red, "#E31A1C"), (orange, "#FF7F00")]:
        fig.add_trace(go.Bar(x=list(range(nsamp)), y=part, base=base.copy(), width=.96,
                             marker=dict(color=c, line=dict(width=0)), xaxis=xr, yaxis=yr, showlegend=False))
        base += part
    seg(axis_x, 471, axis_x, 508.3, "#888888", .8)
    seg(axis_x - 2, 471, axis_x, 471, "#888888", .8)
    seg(axis_x - 2, 508.3, axis_x, 508.3, "#888888", .8)
    text(axis_x - 3, 471, str(tmb_max), 7, "#444444", "right")
    text(axis_x - 3, 508.3, "0", 7, "#444444", "right")
    text(axis_x - 12.5, 490, "TMB", 6.5, "#444444", angle=-90)
    # per-gene sample counts to the right of the matrix
    xr, yr = panel(bars_left, bars_right, top, bottom, [0, bar_max], [9.5, -.5])
    start = np.zeros(10)
    for code in order:
        counts = np.array([row.count(code) for row in rows], float)
        i = mutation_codes.index(code)
        fig.add_trace(go.Bar(x=counts, y=list(range(10)), base=start.copy(), orientation="h", width=.88,
                             marker=dict(color=mutation_colors[i], line=dict(width=0)),
                             xaxis=xr, yaxis=yr, showlegend=False))
        start += counts
    seg(bars_left, 510, bars_right, 510, "#888888", .8)
    seg(bars_left, 507.5, bars_left, 510, "#888888", .8)
    seg(bars_right, 507.5, bars_right, 510, "#888888", .8)
    text(bars_left, 501, "0", 7, "#444444")
    text(bars_right, 501, str(bar_max), 7, "#444444")
    text((bars_left + bars_right) / 2, 505, "No. of samples", 7, "#444444")
    row_h = (bottom - top) / 10
    for i, (g, p) in enumerate(zip(genes, percents)):
        y = top + row_h * (i + .5)
        text(left - 3, y, f"<i>{g}</i>", 7.5, "#333333", "right")
        text(right + 1, y, p, 7.5, "#333333", "left")
    text(title_x, 460, f"<b>{title}</b>", 7.7, "#222222")


oncoplot(genes_c, percent_c, cells_c, stack_order_c, tmb_total_c, tmb_red_c, tmb_orange_c, tmb_blue_c,
         "Altered in 65 (90.28%) of 72 samples.", 598, 398, 718.3, 736.7, 822.7, 100, 53, 394.7)
oncoplot(genes_d, percent_d, cells_d, stack_order_d, tmb_total_d, tmb_red_d, tmb_orange_d, tmb_blue_d,
         "Altered in 56 (78.87%) of 71 samples.", 1078, 878, 1198, 1216.7, 1302.7, 86, 39, 875)

# shared mutation legend
legend_x = [538, 697.8, 857, 1017]
legend_y = [697.5, 727.5]
legend_order = [[0, 1, 2, 3], [4, 5, 6, 7]]
for ly, idxs in zip(legend_y, legend_order):
    for lx, i in zip(legend_x, idxs):
        rect(lx - 3.2, ly - 3.5, lx + 3.2, ly + 3.5, mutation_colors[i])
        text(lx + 12.7, ly, mutation_names[i], 15, "#222222", "left")

# CNV proportion bars
grid_e = dict(showgrid=True, gridcolor=GRID, gridwidth=1, showline=True, mirror=True, linecolor="#C8C8C8",
              linewidth=1, showticklabels=True, tickfont=dict(size=8.5, color=TICK_GRAY),
              minor=dict(showgrid=True, gridcolor="#F3F3F3", gridwidth=.6))
xr, yr = panel(394.7, 516.3, 772, 995.3, [.4, 2.6], [-.05, 1.0475],
               dict(grid_e, tickvals=[1, 2], ticktext=cnv_groups, minor=dict(showgrid=False), ticklabelstandoff=-3),
               dict(grid_e, tickvals=[0, .25, .5, .75, 1], tickformat=".2f",
                    minor=dict(showgrid=True, gridcolor="#F3F3F3", gridwidth=.6, tickvals=[.125, .375, .625, .875])))
cnv_base = np.zeros(2)
for vals, c in [(cnv_none, "#2CA02C"), (cnv_loss, "#FF7F0E"), (cnv_gain, "#1F77B4")]:
    fig.add_trace(go.Bar(x=[1, 2], y=vals, base=cnv_base.copy(), width=.9, marker=dict(color=c, line=dict(width=0)),
                         xaxis=xr, yaxis=yr, showlegend=False))
    cnv_base += np.array(vals)
text(394, 765, "CNV proportion", 8.5, "#333333", "left")
text(367, 880.7, "Proportion", 8, "#333333", angle=-90)
text(455, 1010.5, "Hypoxia Group", 8.5, "#333333")
for sx, tx, name, c in [(369, 387.7, "CNV gain", "#1F77B4"), (429, 447.7, "CNV loss", "#FF7F0E"),
                        (488.3, 506.7, "CNV none", "#2CA02C")]:
    rect(sx, 1017, sx + 13.7, 1031, c)
    text(tx, 1024.3, name, 8.5, "#333333", "left")

# TMB by hypoxia group
HIGH_POINT, LOW_POINT = "rgba(228,45,60,.68)", "rgba(45,45,228,.68)"
HIGH_BOX, LOW_BOX = "rgba(232,110,120,.55)", "rgba(110,110,232,.55)"
xr, yr = panel(551.7, 892, 773, 995, [.4026, 2.598], [-.09, 2.21],
               dict(tickvals=[1, 2], ticktext=cnv_groups, showticklabels=True, showline=True, linecolor=AXIS_GRAY,
                    tickfont=dict(size=8.5, color=TICK_GRAY)),
               dict(tickvals=[0, .5, 1, 1.5, 2], tickformat=".1f", showticklabels=True, showline=True,
                    linecolor=AXIS_GRAY, tickfont=dict(size=8.5, color=TICK_GRAY)))
for xpos, stats, c in [(1, high_box, HIGH_BOX), (2, low_box, LOW_BOX)]:
    fig.add_trace(go.Box(x=[xpos], q1=[stats["q1"]], median=[stats["median"]], q3=[stats["q3"]],
                         lowerfence=[stats["lowerfence"]], upperfence=[stats["upperfence"]], width=.5,
                         whiskerwidth=0, boxpoints=False, line=dict(color=c, width=.9), fillcolor="rgba(0,0,0,0)",
                         xaxis=xr, yaxis=yr, showlegend=False))
fig.add_trace(go.Scatter(x=1 + np.array(high_jitter), y=high_tmb, mode="markers", xaxis=xr, yaxis=yr, showlegend=False,
                         marker=dict(color=HIGH_POINT, size=4.0, line=dict(width=0))))
fig.add_trace(go.Scatter(x=2 + np.array(low_jitter), y=low_tmb, mode="markers", xaxis=xr, yaxis=yr, showlegend=False,
                         marker=dict(color=LOW_POINT, size=4.0, line=dict(width=0))))
fig.add_trace(go.Scatter(x=[1, 1, 2, 2], y=[2.08, 2.104, 2.104, 2.08], mode="lines", xaxis=xr, yaxis=yr,
                         showlegend=False, line=dict(color="#8C8C8C", width=.8)))
fig.add_annotation(x=1.5, y=2.165, xref=xr, yref=yr, text="**", showarrow=False, font=dict(size=7.5, color="#333333"))
text(533.3, 884, "TMB", 9.5, "#333333", angle=-90)
text(721.7, 1010.7, "Hypoxia group", 9.5, "#333333")
for cx, tx, name, box_c, dot_c in [(656.5, 669.3, "High score", HIGH_BOX, HIGH_POINT),
                                   (740.5, 753.3, "Low score", LOW_BOX, LOW_POINT)]:
    seg(cx, 1021, cx, 1032, box_c, .8)
    rect(cx - 5.7, 1022.5, cx + 5.7, 1030.5, "rgba(0,0,0,0)", box_c, .9)
    shapes.append(dict(type="circle", xref="paper", yref="paper", x0=fx(cx - 2.3), x1=fx(cx + 2.3),
                       y0=fy(1028.8), y1=fy(1024.2), fillcolor=dot_c, line=dict(width=0)))
    text(tx, 1026.3, name, 9.5, "#444444", "left")

# score vs TMB scatter with marginal densities
g_left, g_right, g_top, g_bottom = 929.3, 1249.3, 809.7, 996.7
g_xrange = [-9.075, -3.05]
g_yrange = [-.082, 2.097]
grid_g = dict(showgrid=True, gridcolor=GRID, gridwidth=1, showline=True, mirror=True, linecolor="#C8C8C8",
              linewidth=1, showticklabels=True, tickfont=dict(size=7.5, color=TICK_GRAY))
xr, yr = panel(g_left, g_right, g_top, g_bottom, g_xrange, g_yrange,
               dict(grid_g, tickvals=[-9, -8, -7, -6, -5, -4], ticklabelstandoff=-1,
                    minor=dict(showgrid=True, gridcolor="#F3F3F3", gridwidth=.6,
                               tickvals=[-8.5, -7.5, -6.5, -5.5, -4.5, -3.5])),
               dict(grid_g, tickvals=[0, .5, 1, 1.5, 2], tickformat=".1f", ticks="outside", ticklen=2,
                    tickcolor="#C8C8C8",
                    minor=dict(showgrid=True, gridcolor="#F3F3F3", gridwidth=.6, tickvals=[.25, .75, 1.25, 1.75])))
fig.add_trace(go.Scatter(x=hypoxia_score, y=score_tmb, mode="markers", xaxis=xr, yaxis=yr, showlegend=False,
                         marker=dict(color="#111111", size=3.4, line=dict(width=0))))
fig.add_trace(go.Scatter(x=fit_x + fit_x[::-1], y=fit_upper + fit_lower[::-1], mode="lines", fill="toself",
                         fillcolor="rgba(153,153,153,.4)", line=dict(width=0), xaxis=xr, yaxis=yr, showlegend=False))
fig.add_trace(go.Scatter(x=fit_x, y=fit_y, mode="lines", line=dict(color="#3366FF", width=1.3), xaxis=xr, yaxis=yr,
                         showlegend=False))
xr, yr = panel(g_left, g_right, 772, 808, g_xrange, [0, .455])
fig.add_trace(go.Scatter(x=density_x, y=density_of_x, mode="lines", fill="tozeroy", fillcolor="#FFA500",
                         line=dict(color="#B98A2C", width=.8, shape="spline"), xaxis=xr, yaxis=yr, showlegend=False))
xr, yr = panel(1252.3, 1312, g_top, g_bottom, [0, 1.03], g_yrange)
fig.add_trace(go.Scatter(x=density_of_y, y=density_y, mode="lines", fill="tozerox", fillcolor="#0000FF",
                         line=dict(color="#0000FF", width=.5, shape="spline"), xaxis=xr, yaxis=yr, showlegend=False))
text(940, 829, "<i>R</i>=0.28, <i>p</i>=0.00083", 7.5, "#333333", "left")
text(909, 903, "TMB", 7.5, "#333333", angle=-90)
text(1089, 1012.5, "Hypoxiascore", 7.5, "#333333")

# panel letters
for letter, px, py in [("A", 366, 12.5), ("B", 847, 12.5), ("C", 366, 449), ("D", 847, 449),
                       ("E", 367, 753), ("F", 535, 753), ("G", 903, 754)]:
    text(px, py, f"<b>{letter}</b>", 20.5, "#000000", "left")

fig.update_layout(template="none", width=W, height=H, margin=dict(l=0, r=0, t=0, b=0, pad=0), autosize=False,
                  paper_bgcolor="white", plot_bgcolor="white", barmode="overlay", bargap=0, showlegend=False,
                  font=dict(family="Liberation Sans, Arial, sans-serif"),
                  annotations=list(fig.layout.annotations) + notes,
                  shapes=shapes, **layout_axes)
fig.write_html("out.html")
